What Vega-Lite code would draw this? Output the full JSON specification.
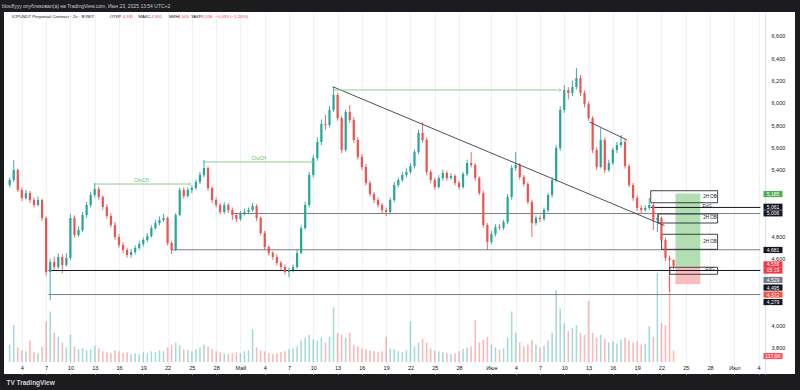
{
  "$schema": "https://vega.github.io/schema/vega-lite/v6.json",
  "width": 791,
  "height": 362,
  "autosize": {"type": "none"},
  "padding": {"left": 4, "top": 12, "right": 5, "bottom": 16},
  "background": "#1c1c1f",
  "view": {"fill": "#ffffff", "stroke": null},
  "config": {"font": "Liberation Sans", "axis": {"labelOverlap": false, "labelFlush": false, "labelBound": false}},
  "title": {"text": "blouffyyy опубликовал(а) на TradingView.com, Июн 23, 2025 13:54 UTC+2", "anchor": "start", "frame": "group", "fontSize": 5, "fontWeight": "normal", "color": "#c9cbd1", "offset": 3, "dx": -2},
  "datasets": {
    "candles": [
      {"t":1.5,"o":5.262,"h":5.33,"l":5.24,"c":5.307,"v":180},
      {"t":2,"o":5.307,"h":5.487,"l":5.29,"c":5.397,"v":380},
      {"t":2.5,"o":5.397,"h":5.41,"l":5.2,"c":5.217,"v":150},
      {"t":3,"o":5.217,"h":5.24,"l":5.12,"c":5.146,"v":120},
      {"t":3.5,"o":5.146,"h":5.22,"l":5.13,"c":5.19,"v":110},
      {"t":4,"o":5.19,"h":5.21,"l":5.1,"c":5.128,"v":220},
      {"t":4.5,"o":5.128,"h":5.15,"l":5.06,"c":5.083,"v":100},
      {"t":5,"o":5.083,"h":5.16,"l":5.07,"c":5.128,"v":90},
      {"t":5.5,"o":5.128,"h":5.14,"l":4.94,"c":4.966,"v":160},
      {"t":6,"o":4.966,"h":4.98,"l":4.45,"c":4.481,"v":420},
      {"t":6.5,"o":4.481,"h":4.6,"l":4.23,"c":4.571,"v":520},
      {"t":7,"o":4.571,"h":4.62,"l":4.5,"c":4.526,"v":300},
      {"t":7.5,"o":4.526,"h":4.65,"l":4.51,"c":4.616,"v":260},
      {"t":8,"o":4.616,"h":4.64,"l":4.47,"c":4.544,"v":200},
      {"t":8.5,"o":4.544,"h":4.65,"l":4.53,"c":4.607,"v":150},
      {"t":9,"o":4.607,"h":5.0,"l":4.59,"c":4.966,"v":280},
      {"t":9.5,"o":4.966,"h":4.99,"l":4.79,"c":4.813,"v":160},
      {"t":10,"o":4.813,"h":4.89,"l":4.8,"c":4.858,"v":130},
      {"t":10.5,"o":4.858,"h":5.02,"l":4.84,"c":4.993,"v":140},
      {"t":11,"o":4.993,"h":5.11,"l":4.97,"c":5.083,"v":120},
      {"t":11.5,"o":5.083,"h":5.2,"l":5.06,"c":5.173,"v":130},
      {"t":12,"o":5.173,"h":5.28,"l":5.15,"c":5.226,"v":170},
      {"t":12.5,"o":5.226,"h":5.25,"l":5.13,"c":5.155,"v":140},
      {"t":13,"o":5.155,"h":5.17,"l":5.04,"c":5.065,"v":110},
      {"t":13.5,"o":5.065,"h":5.09,"l":4.96,"c":4.984,"v":100},
      {"t":14,"o":4.984,"h":5.01,"l":4.88,"c":4.903,"v":90},
      {"t":14.5,"o":4.903,"h":4.93,"l":4.77,"c":4.795,"v":120},
      {"t":15,"o":4.795,"h":4.82,"l":4.7,"c":4.724,"v":110},
      {"t":15.5,"o":4.724,"h":4.75,"l":4.65,"c":4.679,"v":90},
      {"t":16,"o":4.679,"h":4.7,"l":4.61,"c":4.634,"v":100},
      {"t":16.5,"o":4.634,"h":4.69,"l":4.61,"c":4.661,"v":80},
      {"t":17,"o":4.661,"h":4.72,"l":4.64,"c":4.697,"v":90},
      {"t":17.5,"o":4.697,"h":4.76,"l":4.68,"c":4.733,"v":80},
      {"t":18,"o":4.733,"h":4.79,"l":4.71,"c":4.769,"v":100},
      {"t":18.5,"o":4.769,"h":4.83,"l":4.75,"c":4.804,"v":90},
      {"t":19,"o":4.804,"h":4.9,"l":4.79,"c":4.876,"v":110},
      {"t":19.5,"o":4.876,"h":4.95,"l":4.86,"c":4.921,"v":100},
      {"t":20,"o":4.921,"h":4.98,"l":4.9,"c":4.948,"v":120},
      {"t":20.5,"o":4.948,"h":5.002,"l":4.93,"c":4.966,"v":110},
      {"t":21,"o":4.966,"h":4.98,"l":4.72,"c":4.742,"v":150},
      {"t":21.5,"o":4.742,"h":4.76,"l":4.643,"c":4.679,"v":180},
      {"t":22,"o":4.679,"h":5.01,"l":4.67,"c":4.993,"v":200},
      {"t":22.5,"o":4.993,"h":5.24,"l":4.98,"c":5.217,"v":170},
      {"t":23,"o":5.217,"h":5.24,"l":5.14,"c":5.164,"v":130},
      {"t":23.5,"o":5.164,"h":5.24,"l":5.15,"c":5.217,"v":120},
      {"t":24,"o":5.217,"h":5.26,"l":5.19,"c":5.235,"v":110},
      {"t":24.5,"o":5.235,"h":5.31,"l":5.22,"c":5.289,"v":130},
      {"t":25,"o":5.289,"h":5.38,"l":5.27,"c":5.352,"v":150},
      {"t":25.5,"o":5.352,"h":5.487,"l":5.33,"c":5.415,"v":180},
      {"t":26,"o":5.415,"h":5.43,"l":5.21,"c":5.235,"v":160},
      {"t":26.5,"o":5.235,"h":5.25,"l":5.1,"c":5.128,"v":130},
      {"t":27,"o":5.128,"h":5.15,"l":5.06,"c":5.083,"v":110},
      {"t":27.5,"o":5.083,"h":5.1,"l":5.0,"c":5.02,"v":100},
      {"t":28,"o":5.02,"h":5.11,"l":5.0,"c":5.083,"v":90},
      {"t":28.5,"o":5.083,"h":5.1,"l":5.01,"c":5.038,"v":80},
      {"t":29,"o":5.038,"h":5.06,"l":4.948,"c":4.993,"v":90},
      {"t":29.5,"o":4.993,"h":5.01,"l":4.93,"c":4.957,"v":100},
      {"t":30,"o":4.957,"h":5.03,"l":4.94,"c":5.002,"v":90},
      {"t":30.5,"o":5.002,"h":5.05,"l":4.99,"c":5.02,"v":110},
      {"t":31,"o":5.02,"h":5.06,"l":5.0,"c":5.038,"v":120},
      {"t":31.5,"o":5.038,"h":5.101,"l":5.02,"c":5.074,"v":340},
      {"t":32,"o":5.074,"h":5.09,"l":4.94,"c":4.966,"v":150},
      {"t":32.5,"o":4.966,"h":4.98,"l":4.81,"c":4.831,"v":120},
      {"t":33,"o":4.831,"h":4.85,"l":4.68,"c":4.706,"v":110},
      {"t":33.5,"o":4.706,"h":4.72,"l":4.63,"c":4.652,"v":90},
      {"t":34,"o":4.652,"h":4.67,"l":4.59,"c":4.616,"v":80},
      {"t":34.5,"o":4.616,"h":4.64,"l":4.54,"c":4.562,"v":90},
      {"t":35,"o":4.562,"h":4.58,"l":4.5,"c":4.526,"v":100},
      {"t":35.5,"o":4.526,"h":4.55,"l":4.46,"c":4.481,"v":110},
      {"t":36,"o":4.481,"h":4.52,"l":4.436,"c":4.499,"v":130},
      {"t":36.5,"o":4.499,"h":4.55,"l":4.48,"c":4.526,"v":140},
      {"t":37,"o":4.526,"h":4.68,"l":4.51,"c":4.652,"v":160},
      {"t":37.5,"o":4.652,"h":4.9,"l":4.64,"c":4.876,"v":220},
      {"t":38,"o":4.876,"h":5.11,"l":4.86,"c":5.083,"v":250},
      {"t":38.5,"o":5.083,"h":5.38,"l":5.06,"c":5.352,"v":280},
      {"t":39,"o":5.352,"h":5.53,"l":5.33,"c":5.505,"v":230},
      {"t":39.5,"o":5.505,"h":5.69,"l":5.48,"c":5.648,"v":220},
      {"t":40,"o":5.648,"h":5.85,"l":5.62,"c":5.81,"v":250},
      {"t":40.5,"o":5.81,"h":5.891,"l":5.76,"c":5.801,"v":200},
      {"t":41,"o":5.801,"h":5.97,"l":5.78,"c":5.936,"v":260},
      {"t":41.5,"o":5.936,"h":6.142,"l":5.92,"c":6.07,"v":560},
      {"t":42,"o":6.07,"h":6.09,"l":5.84,"c":5.864,"v":300},
      {"t":42.5,"o":5.864,"h":5.88,"l":5.55,"c":5.577,"v":280},
      {"t":43,"o":5.577,"h":5.94,"l":5.56,"c":5.918,"v":250},
      {"t":43.5,"o":5.918,"h":5.98,"l":5.82,"c":5.846,"v":300},
      {"t":44,"o":5.846,"h":5.87,"l":5.64,"c":5.666,"v":180},
      {"t":44.5,"o":5.666,"h":5.69,"l":5.49,"c":5.514,"v":160},
      {"t":45,"o":5.514,"h":5.54,"l":5.4,"c":5.424,"v":140},
      {"t":45.5,"o":5.424,"h":5.45,"l":5.26,"c":5.28,"v":130},
      {"t":46,"o":5.28,"h":5.3,"l":5.16,"c":5.181,"v":120},
      {"t":46.5,"o":5.181,"h":5.2,"l":5.1,"c":5.128,"v":110},
      {"t":47,"o":5.128,"h":5.15,"l":5.06,"c":5.083,"v":100},
      {"t":47.5,"o":5.083,"h":5.1,"l":5.01,"c":5.038,"v":110},
      {"t":48,"o":5.038,"h":5.06,"l":4.984,"c":5.02,"v":260},
      {"t":48.5,"o":5.02,"h":5.15,"l":5.0,"c":5.128,"v":140},
      {"t":49,"o":5.128,"h":5.29,"l":5.11,"c":5.262,"v":130},
      {"t":49.5,"o":5.262,"h":5.33,"l":5.24,"c":5.307,"v":110},
      {"t":50,"o":5.307,"h":5.38,"l":5.29,"c":5.352,"v":100},
      {"t":50.5,"o":5.352,"h":5.41,"l":5.33,"c":5.379,"v":120},
      {"t":51,"o":5.379,"h":5.46,"l":5.36,"c":5.433,"v":420},
      {"t":51.5,"o":5.433,"h":5.58,"l":5.41,"c":5.559,"v":160},
      {"t":52,"o":5.559,"h":5.76,"l":5.54,"c":5.729,"v":200},
      {"t":52.5,"o":5.729,"h":5.828,"l":5.64,"c":5.666,"v":240},
      {"t":53,"o":5.666,"h":5.69,"l":5.35,"c":5.379,"v":200},
      {"t":53.5,"o":5.379,"h":5.4,"l":5.28,"c":5.307,"v":140},
      {"t":54,"o":5.307,"h":5.33,"l":5.22,"c":5.244,"v":120},
      {"t":54.5,"o":5.244,"h":5.35,"l":5.23,"c":5.325,"v":110},
      {"t":55,"o":5.325,"h":5.4,"l":5.3,"c":5.37,"v":100},
      {"t":55.5,"o":5.37,"h":5.39,"l":5.3,"c":5.325,"v":90},
      {"t":56,"o":5.325,"h":5.37,"l":5.31,"c":5.343,"v":80},
      {"t":56.5,"o":5.343,"h":5.36,"l":5.26,"c":5.28,"v":90},
      {"t":57,"o":5.28,"h":5.3,"l":5.22,"c":5.244,"v":110},
      {"t":57.5,"o":5.244,"h":5.38,"l":5.23,"c":5.361,"v":130},
      {"t":58,"o":5.361,"h":5.49,"l":5.34,"c":5.46,"v":150},
      {"t":58.5,"o":5.46,"h":5.559,"l":5.42,"c":5.442,"v":160},
      {"t":59,"o":5.442,"h":5.46,"l":5.3,"c":5.325,"v":430},
      {"t":59.5,"o":5.325,"h":5.34,"l":5.17,"c":5.19,"v":200},
      {"t":60,"o":5.19,"h":5.21,"l":4.88,"c":4.903,"v":230},
      {"t":60.5,"o":4.903,"h":4.92,"l":4.679,"c":4.751,"v":260},
      {"t":61,"o":4.751,"h":4.85,"l":4.73,"c":4.822,"v":180},
      {"t":61.5,"o":4.822,"h":4.91,"l":4.8,"c":4.885,"v":150},
      {"t":62,"o":4.885,"h":4.91,"l":4.86,"c":4.878,"v":130},
      {"t":62.5,"o":4.878,"h":4.95,"l":4.86,"c":4.93,"v":140},
      {"t":63,"o":4.93,"h":5.18,"l":4.91,"c":5.155,"v":250},
      {"t":63.5,"o":5.155,"h":5.44,"l":5.13,"c":5.415,"v":520},
      {"t":64,"o":5.415,"h":5.559,"l":5.39,"c":5.442,"v":300},
      {"t":64.5,"o":5.442,"h":5.46,"l":5.31,"c":5.334,"v":200},
      {"t":65,"o":5.334,"h":5.35,"l":5.25,"c":5.271,"v":160},
      {"t":65.5,"o":5.271,"h":5.29,"l":5.09,"c":5.11,"v":180},
      {"t":66,"o":5.11,"h":5.13,"l":4.795,"c":4.921,"v":230},
      {"t":66.5,"o":4.921,"h":4.99,"l":4.9,"c":4.966,"v":180},
      {"t":67,"o":4.966,"h":4.99,"l":4.93,"c":4.957,"v":150},
      {"t":67.5,"o":4.957,"h":5.06,"l":4.94,"c":5.038,"v":170},
      {"t":68,"o":5.038,"h":5.19,"l":5.02,"c":5.173,"v":220},
      {"t":68.5,"o":5.173,"h":5.33,"l":5.15,"c":5.307,"v":300},
      {"t":69,"o":5.307,"h":5.62,"l":5.29,"c":5.594,"v":740},
      {"t":69.5,"o":5.594,"h":5.97,"l":5.57,"c":5.936,"v":550},
      {"t":70,"o":5.936,"h":6.16,"l":5.91,"c":6.115,"v":400},
      {"t":70.5,"o":6.115,"h":6.14,"l":6.03,"c":6.088,"v":320},
      {"t":71,"o":6.088,"h":6.2,"l":6.06,"c":6.142,"v":350},
      {"t":71.5,"o":6.142,"h":6.313,"l":6.12,"c":6.223,"v":380},
      {"t":72,"o":6.223,"h":6.25,"l":6.06,"c":6.088,"v":300},
      {"t":72.5,"o":6.088,"h":6.11,"l":5.96,"c":5.989,"v":280},
      {"t":73,"o":5.989,"h":6.01,"l":5.84,"c":5.864,"v":630},
      {"t":73.5,"o":5.864,"h":5.88,"l":5.55,"c":5.577,"v":300},
      {"t":74,"o":5.577,"h":5.6,"l":5.4,"c":5.424,"v":250},
      {"t":74.5,"o":5.424,"h":5.774,"l":5.41,"c":5.666,"v":280},
      {"t":75,"o":5.666,"h":5.69,"l":5.37,"c":5.397,"v":240},
      {"t":75.5,"o":5.397,"h":5.49,"l":5.38,"c":5.46,"v":200},
      {"t":76,"o":5.46,"h":5.6,"l":5.44,"c":5.577,"v":210},
      {"t":76.5,"o":5.577,"h":5.65,"l":5.55,"c":5.621,"v":190},
      {"t":77,"o":5.621,"h":5.711,"l":5.6,"c":5.648,"v":230},
      {"t":77.5,"o":5.648,"h":5.67,"l":5.41,"c":5.433,"v":250},
      {"t":78,"o":5.433,"h":5.45,"l":5.24,"c":5.262,"v":220},
      {"t":78.5,"o":5.262,"h":5.28,"l":5.12,"c":5.146,"v":200},
      {"t":79,"o":5.146,"h":5.17,"l":5.03,"c":5.056,"v":210},
      {"t":79.5,"o":5.056,"h":5.08,"l":5.01,"c":5.038,"v":180},
      {"t":80,"o":5.038,"h":5.08,"l":5.02,"c":5.056,"v":190},
      {"t":80.5,"o":5.056,"h":5.146,"l":5.04,"c":5.083,"v":370},
      {"t":81,"o":5.083,"h":5.1,"l":4.858,"c":4.948,"v":260},
      {"t":81.5,"o":4.948,"h":5.0,"l":4.84,"c":4.966,"v":920},
      {"t":82,"o":4.966,"h":4.98,"l":4.75,"c":4.769,"v":400},
      {"t":82.5,"o":4.769,"h":4.79,"l":4.58,"c":4.607,"v":380},
      {"t":83,"o":4.607,"h":4.63,"l":4.302,"c":4.591,"v":880},
      {"t":83.5,"o":4.591,"h":4.591,"l":4.505,"c":4.536,"v":117.6}
    ],
    "levels": [
      {"p":5.061,"t0":80.68,"t1":94.22,"kind":"solid"},
      {"p":5.006,"t0":28.98,"t1":94.22,"kind":"soft"},
      {"p":4.681,"t0":21.41,"t1":94.22,"kind":"soft"},
      {"p":4.495,"t0":6.29,"t1":94.22,"kind":"solid"},
      {"p":4.279,"t0":6.29,"t1":94.22,"kind":"soft"}
    ],
    "zones": [
      {"t0":80.68,"t1":88.94,"p0":5.211,"p1":5.103},
      {"t0":81.62,"t1":88.94,"p0":5.002,"p1":4.921},
      {"t0":82.02,"t1":88.94,"p0":4.82,"p1":4.685},
      {"t0":83.04,"t1":88.94,"p0":4.524,"p1":4.461}
    ],
    "position": [
      {"t0":83.73,"t1":86.8,"p0":5.185,"p1":4.53,"side":"target"},
      {"t0":83.73,"t1":86.8,"p0":4.53,"p1":4.372,"side":"stop"}
    ],
    "trend": [
      {"id":"a","t":41.38,"p":6.145},
      {"id":"a","t":82.39,"p":4.898},
      {"id":"b","t":73.12,"p":5.828},
      {"id":"b","t":77.76,"p":5.666}
    ],
    "choch": [
      {"t0":11.9,"t1":23.85,"p":5.271,"tm":17.76,"label":"ChoCH"},
      {"t0":25.32,"t1":38.98,"p":5.469,"tm":32.27,"label":"ChoCH"},
      {"t0":41.54,"t1":69.59,"p":6.115,"tm":55.5,"label":""}
    ],
    "notes": [
      {"t":88.0,"p":5.155,"text":"2H OB"},
      {"t":88.0,"p":4.966,"text":"2H OB"},
      {"t":88.0,"p":4.751,"text":"2H OB"},
      {"t":88.0,"p":4.497,"text":"FVG"},
      {"t":87.63,"p":5.061,"text":"FVG"}
    ],
    "legend": [
      {"t":1.78,"text":"ICPUSDT Perpetual Contract · 2ч · BYBIT","kind":"name"},
      {"t":13.85,"text":"ОТКР","kind":"name"},
      {"t":15.44,"text":"4,591","kind":"value"},
      {"t":17.39,"text":"МАКС","kind":"name"},
      {"t":18.98,"text":"4,591","kind":"value"},
      {"t":21.17,"text":"МИН","kind":"name"},
      {"t":22.27,"text":"4,505","kind":"value"},
      {"t":23.85,"text":"ЗАКР","kind":"name"},
      {"t":25.2,"text":"4,536","kind":"value"},
      {"t":26.9,"text":"−0,055 (−1,20%)","kind":"value"}
    ],
    "tags": [
      {"p":5.181,"text":"5,185","kind":"tp"},
      {"p":5.067,"text":"5,061","kind":"lvl"},
      {"p":5.008,"text":"5,006","kind":"lvl"},
      {"p":4.679,"text":"4,681","kind":"lvl"},
      {"p":4.549,"text":"4,536","kind":"last"},
      {"p":4.495,"text":"05:19","kind":"last"},
      {"p":4.41,"text":"4,529","kind":"grey"},
      {"p":4.342,"text":"4,495","kind":"lvl"},
      {"p":4.279,"text":"4,372","kind":"sl"},
      {"p":4.212,"text":"4,279","kind":"lvl"},
      {"p":3.727,"text":"117,6K","kind":"vol"}
    ]
  },
  "resolve": {"scale": {"y": "independent"}},
  "layer": [
    {
      "data": {"name": "candles"},
      "mark": {"type": "bar", "size": 1.6, "opacity": 0.4},
      "encoding": {
        "x": {"field": "t", "type": "quantitative",
              "scale": {"domain": [1.415, 97.88], "nice": false, "zero": false},
              "axis": {"values": [3,6,9,12,15,18,21,24,27,30,33,36,39,42,45,48,51,54,57,61,64,67,70,73,76,79,82,85,88,91,94],
                       "tickCount": 500,
                       "labelExpr": "datum.value == 30 ? 'Май' : datum.value == 61 ? 'Июн' : datum.value == 91 ? 'Июл' : datum.value < 30 ? datum.value + 1 : datum.value < 61 ? datum.value - 29 : datum.value < 91 ? datum.value - 60 : datum.value - 90",
                       "labelFontSize": 5.5, "labelColor": "#131722", "labelPadding": 3, "labelOverlap": false, "labelFlush": false,
                       "ticks": false, "domain": false, "grid": true, "gridColor": "#eff1f5", "gridWidth": 1, "offset": -12,
                       "title": "TV  TradingView", "titleX": 2, "titleY": 20, "titleAlign": "left", "titleAnchor": "start", "titleBaseline": "middle",
                       "titleColor": "#d1d4dc", "titleFontSize": 6.5, "titleFontWeight": "bold"}},
        "y": {"field": "v", "type": "quantitative", "scale": {"domain": [-123.4, 3600], "nice": false, "zero": false}, "axis": null},
        "y2": {"datum": 0},
        "color": {"condition": {"test": "datum.c >= datum.o", "value": "#26a69a"}, "value": "#ef5350"}
      }
    },
    {
      "layer": [
        {
          "data": {"name": "candles"},
          "mark": {"type": "rule", "strokeWidth": 0.9},
          "encoding": {
            "x": {"field": "t", "type": "quantitative"},
            "y": {"field": "l", "type": "quantitative",
                  "scale": {"domain": [3.566, 6.815], "nice": false, "zero": false},
                  "axis": {"values": [3.8,4.0,4.6,4.8,5.4,5.6,5.8,6.0,6.2,6.4,6.6], "tickCount": 500, "orient": "right", "offset": -30,
                           "labelExpr": "replace(format(datum.value, '.3f'), '.', ',')",
                           "labelFontSize": 5.5, "labelColor": "#131722", "labelPadding": 6, "labelOverlap": false,
                           "ticks": false, "domain": true, "domainColor": "#e0e3eb", "grid": false, "title": ""}},
            "y2": {"field": "h"},
            "color": {"condition": {"test": "datum.c >= datum.o", "value": "#26a69a"}, "value": "#ef5350"}
          }
        },
        {
          "data": {"name": "position"},
          "mark": {"type": "rect", "opacity": 0.9},
          "encoding": {
            "x": {"field": "t0", "type": "quantitative"},
            "x2": {"field": "t1"},
            "y": {"field": "p0", "type": "quantitative"},
            "y2": {"field": "p1"},
            "color": {"condition": {"test": "datum.side === 'target'", "value": "#a8dcaa"}, "value": "#f7b7b7"}
          }
        },
        {
          "data": {"name": "levels"},
          "mark": {"type": "rule", "strokeWidth": 1},
          "encoding": {
            "x": {"field": "t0", "type": "quantitative"},
            "x2": {"field": "t1"},
            "y": {"field": "p", "type": "quantitative"},
            "color": {"condition": {"test": "datum.kind === 'solid'", "value": "#131722"}, "value": "#787b86"}
          }
        },
        {
          "data": {"name": "zones"},
          "mark": {"type": "rect", "filled": false, "color": "#131722", "strokeWidth": 0.8},
          "encoding": {
            "x": {"field": "t0", "type": "quantitative"},
            "x2": {"field": "t1"},
            "y": {"field": "p0", "type": "quantitative"},
            "y2": {"field": "p1"}
          }
        },
        {
          "data": {"name": "candles"},
          "mark": {"type": "bar", "size": 2.2},
          "encoding": {
            "x": {"field": "t", "type": "quantitative"},
            "y": {"field": "o", "type": "quantitative"},
            "y2": {"field": "c"},
            "color": {"condition": {"test": "datum.c >= datum.o", "value": "#26a69a"}, "value": "#ef5350"}
          }
        },
        {
          "data": {"name": "trend"},
          "mark": {"type": "line", "color": "#3a3d47", "strokeWidth": 0.9},
          "encoding": {
            "x": {"field": "t", "type": "quantitative"},
            "y": {"field": "p", "type": "quantitative"},
            "detail": {"field": "id"}
          }
        },
        {
          "data": {"name": "choch"},
          "mark": {"type": "rule", "color": "#81c784", "strokeWidth": 0.9},
          "encoding": {
            "x": {"field": "t0", "type": "quantitative"},
            "x2": {"field": "t1"},
            "y": {"field": "p", "type": "quantitative"}
          }
        },
        {
          "data": {"name": "choch"},
          "mark": {"type": "point", "shape": "M-1,-1L0,0L-1,1", "filled": false, "color": "#81c784", "size": 12, "strokeWidth": 0.9},
          "encoding": {
            "x": {"field": "t1", "type": "quantitative"},
            "y": {"field": "p", "type": "quantitative"}
          }
        },
        {
          "data": {"name": "choch"},
          "mark": {"type": "text", "color": "#66bb6a", "fontSize": 4.5, "dy": -3},
          "encoding": {
            "x": {"field": "tm", "type": "quantitative"},
            "y": {"field": "p", "type": "quantitative"},
            "text": {"field": "label"}
          }
        },
        {
          "mark": {"type": "rule", "color": "#f23645", "strokeWidth": 0.8, "strokeDash": [2, 2], "opacity": 0.6},
          "encoding": {
            "x": {"datum": 1.415, "type": "quantitative"},
            "x2": {"datum": 94.22},
            "y": {"datum": 4.536, "type": "quantitative"}
          }
        },
        {
          "data": {"name": "notes"},
          "mark": {"type": "text", "color": "#131722", "fontSize": 4.5},
          "encoding": {
            "x": {"field": "t", "type": "quantitative"},
            "y": {"field": "p", "type": "quantitative"},
            "text": {"field": "text"}
          }
        },
        {
          "data": {"name": "legend"},
          "mark": {"type": "text", "align": "left", "baseline": "middle", "fontSize": 4.4},
          "encoding": {
            "x": {"field": "t", "type": "quantitative"},
            "y": {"datum": 6.77, "type": "quantitative"},
            "text": {"field": "text"},
            "color": {"condition": {"test": "datum.kind === 'value'", "value": "#f23645"}, "value": "#131722"}
          }
        },
        {
          "data": {"name": "tags"},
          "mark": {"type": "tick", "orient": "horizontal", "size": 19, "thickness": 6.2, "opacity": 1},
          "encoding": {
            "x": {"datum": 95.78, "type": "quantitative"},
            "y": {"field": "p", "type": "quantitative"},
            "color": {"condition": [
              {"test": "datum.kind === 'tp'", "value": "#4caf50"},
              {"test": "datum.kind === 'lvl'", "value": "#131722"},
              {"test": "datum.kind === 'last'", "value": "#f23645"},
              {"test": "datum.kind === 'grey'", "value": "#787b86"},
              {"test": "datum.kind === 'sl'", "value": "#f5553f"}
            ], "value": "#f7525f"}
          }
        },
        {
          "data": {"name": "tags"},
          "mark": {"type": "text", "color": "#ffffff", "fontSize": 5, "baseline": "middle"},
          "encoding": {
            "x": {"datum": 95.78, "type": "quantitative"},
            "y": {"field": "p", "type": "quantitative"},
            "text": {"field": "text"}
          }
        },
        {
          "mark": {"type": "text", "color": "#787b86", "fontSize": 5, "baseline": "middle"},
          "encoding": {
            "x": {"datum": 95.66, "type": "quantitative"},
            "y": {"datum": 6.748, "type": "quantitative"},
            "text": {"value": "USDT"}
          }
        },
        {
          "mark": {"type": "point", "shape": "circle", "filled": true, "fill": "#ffffff", "stroke": "#9c27b0", "strokeWidth": 1.2, "size": 60},
          "encoding": {
            "x": {"datum": 83.61, "type": "quantitative"},
            "y": {"datum": 3.736, "type": "quantitative"}
          }
        },
        {
          "mark": {"type": "text", "color": "#9c27b0", "fontSize": 5, "font": "DejaVu Sans", "baseline": "middle"},
          "encoding": {
            "x": {"datum": 83.61, "type": "quantitative"},
            "y": {"datum": 3.736, "type": "quantitative"},
            "text": {"value": "ϟ"}
          }
        }
      ]
    }
  ]
}
